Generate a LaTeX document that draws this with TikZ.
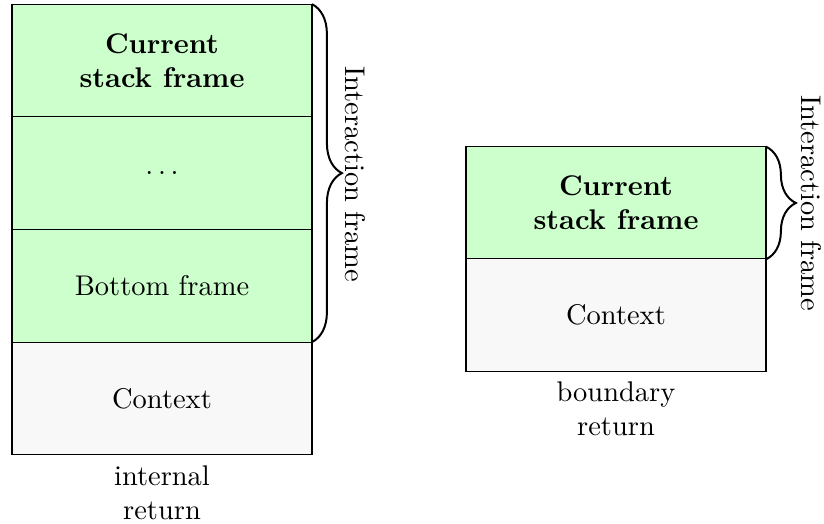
\documentclass[tikz,border=0pt]{standalone}
\usetikzlibrary{decorations.pathreplacing}
\definecolor{framegreen}{RGB}{204,255,204}
\definecolor{ctxgray}{RGB}{248,248,248}
\begin{document}
\begin{tikzpicture}[x=0.3514pt,y=-0.3514pt,
  cell/.style={draw=black, line width=0.4pt, minimum width=105.4pt,
    minimum height=39.6pt, inner sep=0pt, outer sep=0pt, align=center},
  active/.style={cell, fill=framegreen},
  ctx/.style={cell, fill=ctxgray},
  caption/.style={align=center, anchor=north, inner sep=3.5pt},
  bracket/.style={decorate, decoration={brace, amplitude=10.5pt}, line width=0.7pt},
  bracelabel/.style={rotate=-90, inner sep=0pt}]
\useasboundingbox (0,0) rectangle (824,524);

% internal return: several frames above the context
\node[active, font=\bfseries] (l1) at (162,60.5) {Current\\stack frame};
\node[active] (l2) at (162,173.25) {$\ldots$};
\node[active] (l3) at (162,285.75) {Bottom frame};
\node[ctx] (l4) at (162,398.5) {Context};
\node[caption] (lcap) at (l4.south) {internal\\return};

\draw[bracket] (l1.north east) -- (l3.south east);
\node[bracelabel] (llab) at (355,174) {Interaction frame};

% boundary return: a single frame above the context
\node[active, font=\bfseries] (r1) at (616,203) {Current\\stack frame};
\node[ctx] (r2) at (616,315) {Context};
\node[caption] (rcap) at (r2.south) {boundary\\return};

\draw[bracket] (r1.north east) -- (r1.south east);
\node[bracelabel] (rlab) at (811,203) {Interaction frame};
\end{tikzpicture}
\end{document}
